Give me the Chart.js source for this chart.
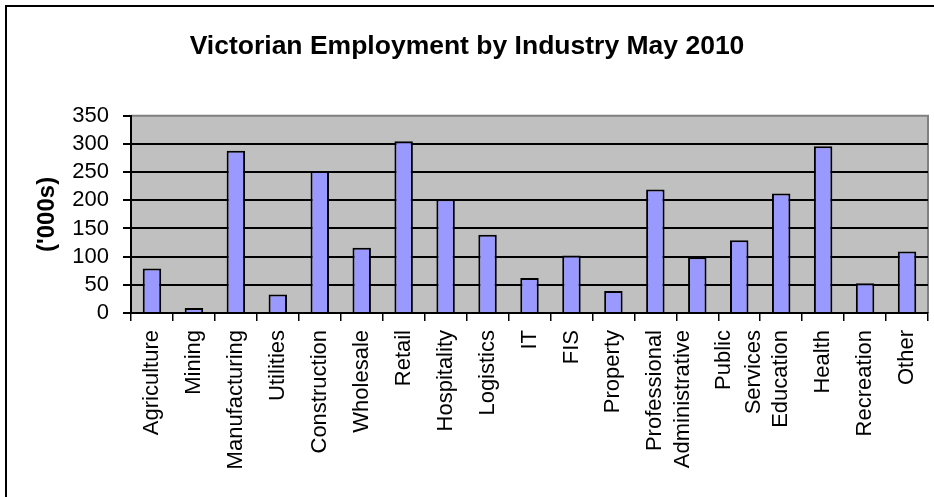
<!DOCTYPE html>
<html>
<head>
<meta charset="utf-8">
<script src="https://cdn.jsdelivr.net/npm/chart.js@4/dist/chart.umd.min.js"></script>
<style>
  html, body { margin: 0; padding: 0; background: #fff; overflow: hidden; }
  #frame { position: absolute; left: 5px; top: 5px; width: 960px; height: 520px; border: 2px solid #000; box-sizing: border-box; }
  #wrap { position: absolute; left: 0; top: 0; width: 934px; height: 497px; }
</style>
</head>
<body>
<div id="frame"></div>
<div id="wrap"><canvas id="chart" width="934" height="497"></canvas></div>
<script>
// Victorian Employment by Industry, May 2010 ('000s)
const industries = [
  'Agriculture', 'Mining', 'Manufacturing', 'Utilities', 'Construction',
  'Wholesale', 'Retail', 'Hospitality', 'Logistics', 'IT', 'FIS', 'Property',
  'Professional', ['Administrative', ''], ['Public', 'Services'], 'Education',
  'Health', 'Recreation', 'Other'
];
const employment = [79, 9, 288, 33, 252, 116, 305, 202, 139, 62, 102, 39, 219, 99, 129, 212, 296, 53, 109];
const yTicks = [0, 50, 100, 150, 200, 250, 300, 350];

const chartTitle = 'Victorian Employment by Industry May 2010';
const yTitle = "('000s)";

const FONT = 'Arial, "Liberation Sans", sans-serif';

// grey plot background + grey top/right frame
const plotBg = {
  id: 'plotBg',
  beforeDraw(chart) {
    const a = chart.chartArea, ctx = chart.ctx;
    ctx.save();
    ctx.fillStyle = '#C0C0C0';
    ctx.fillRect(a.left, a.top, a.right - a.left, a.bottom - a.top);
    ctx.strokeStyle = '#808080';
    ctx.lineWidth = 2;
    ctx.beginPath();
    ctx.moveTo(a.left, a.top); ctx.lineTo(a.right, a.top); ctx.lineTo(a.right, a.bottom);
    ctx.stroke();
    ctx.restore();
  }
};

// Excel centres wrapped category labels on the tick; Chart.js puts the first line there
const centerWrapped = {
  id: 'centerWrapped',
  beforeDraw(chart) {
    chart.scales.x.getLabelItems().forEach(it => {
      if (Array.isArray(it.label) && it.label.length > 1 && !it._centred) {
        it.textOffset -= (it.label.length - 1) * it.font.lineHeight / 2;
        it._centred = true;
      }
    });
  }
};

new Chart(document.getElementById('chart'), {
  type: 'bar',
  data: {
    labels: industries,
    datasets: [{
      data: employment,
      backgroundColor: '#9999FF',
      borderColor: '#000',
      borderWidth: 2,
      categoryPercentage: 1,
      barPercentage: 0.44
    }]
  },
  options: {
    responsive: false,
    animation: false,
    layout: { padding: { left: 6, right: 6, top: 0, bottom: 0 } },
    plugins: {
      legend: { display: false },
      tooltip: { enabled: false },
      title: {
        display: true,
        text: chartTitle,
        color: '#000',
        font: { family: FONT, size: 26.5, weight: 'bold' },
        padding: { top: 31, bottom: 53 }
      }
    },
    scales: {
      x: {
        afterFit: a => { a.height = 184; a.paddingLeft = 0; a.paddingRight = 0; },
        border: { display: true, color: '#000', width: 2 },
        grid: { display: true, drawOnChartArea: false, drawTicks: true, tickLength: 8, color: '#000', lineWidth: 1.5, offset: true },
        ticks: {
          color: '#000',
          autoSkip: false,
          minRotation: 90,
          maxRotation: 90,
          padding: 9,
          font: { family: FONT, size: 22, lineHeight: 1.35 }
        }
      },
      y: {
        min: 0,
        max: 350,
        afterFit: a => { a.width = 125; },
        afterBuildTicks: a => { a.ticks = yTicks.map(v => ({ value: v })); },
        border: { display: true, color: '#000', width: 2 },
        grid: {
          color: c => (c.tick && c.tick.value === 350) ? 'rgba(0,0,0,0)' : '#000',
          tickColor: '#000',
          lineWidth: 2,
          tickLength: 8
        },
        ticks: {
          color: '#000',
          autoSkip: false,
          padding: 14,
          font: { family: FONT, size: 22 }
        },
        title: {
          display: true,
          text: yTitle,
          color: '#000',
          padding: { top: 27, bottom: 0 },
          font: { family: FONT, size: 24, weight: 'bold' }
        }
      }
    }
  },
  plugins: [plotBg, centerWrapped]
});
</script>
</body>
</html>
